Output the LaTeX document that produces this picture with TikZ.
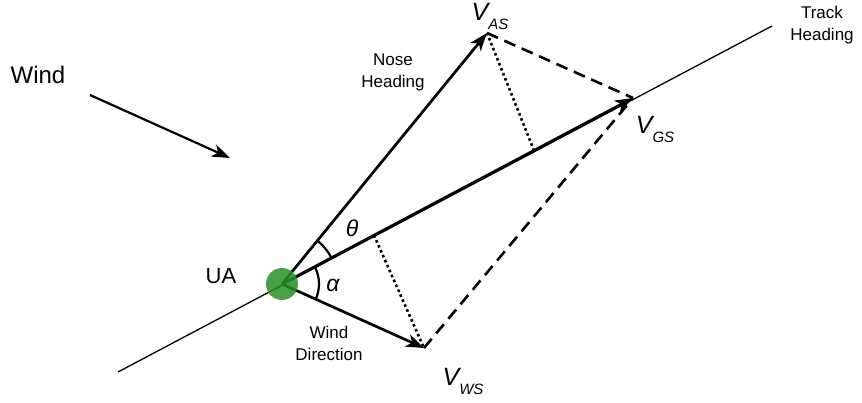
\documentclass[tikz,border=0pt]{standalone}
\usepackage{fontspec}
\setmainfont{Liberation Sans}
\usetikzlibrary{arrows.meta,calc}
\definecolor{uagreen}{RGB}{40,145,40}
\newcommand{\vel}[1]{{\fontsize{25}{25}\selectfont\itshape V}{\fontsize{15}{15}\selectfont\itshape\raisebox{-9pt}{#1}}}

\begin{document}
\begin{tikzpicture}
				[x=1pt,y=1pt,every node/.style={align=center, font=\fontsize{17}{22}\selectfont},vec/.style={line width=2.7pt, -{Stealth[length=18pt,width=13pt,inset=5pt]}},guide/.style={line width=2.6pt}]
				\useasboundingbox (0,0) rectangle (862,402);
				\coordinate (ua) at (282,118);\coordinate (as) at (487,369);\coordinate (gs) at (633,304);\coordinate (ws) at (424,54);\coordinate (trackstart) at (118,30);\coordinate (trackend) at (772,376);\coordinate (windstart) at (90,307);\coordinate (windend) at (230,244);\coordinate (footas) at ($(ua)!0.718!(gs)$);\coordinate (footws) at ($(ua)!0.262!(gs)$);
				
				\node (wind) at (38,327) [font=\fontsize{24}{24}\selectfont] {Wind};\node (ualabel) at (221,126) [font=\fontsize{22}{22}\selectfont] {UA};\node (nose) at (393,330) {Nose\\Heading};\node (track) at (822,377) {Track\\Heading};\node (winddir) at (329,59) {Wind\\Direction};\node (theta) at (352,174) [font=\fontsize{23}{23}\selectfont\itshape] {θ};\node (alpha) at (333,117) [font=\fontsize{23}{23}\selectfont\itshape] {α};\node (vas) at (490,386) {\vel{AS}};\node (vgs) at (655,273) {\vel{GS}};\node (vws) at (463,21) {\vel{WS}};
				
				\draw[line width=1.3pt] (trackstart) -- (trackend);
				\draw[vec, line width=2.2pt] (windstart) -- (windend);
				\draw[guide, dash pattern=on 12pt off 7pt] (as) -- (gs);
				\draw[guide, dash pattern=on 12pt off 7pt] (ws) -- (gs);
				\draw[guide, dash pattern=on 2.6pt off 2.8pt] (as) -- (footas);
				\draw[guide, dash pattern=on 2.6pt off 2.8pt] (footws) -- (ws);
				\draw[vec] (ua) -- (as);
				\draw[vec] (ua) -- (gs);
				\draw[vec] (ua) -- (ws);
				\draw[line width=2.2pt] ($(ua)+(27.9:56)$) arc[start angle=27.9, end angle=50.8, radius=56];
				\draw[line width=2.2pt] ($(ua)+(-24.4:37)$) arc[start angle=-24.4, end angle=27.9, radius=37];
				\fill[uagreen, fill opacity=0.85] (ua) circle (16);
			\end{tikzpicture}
\end{document}
